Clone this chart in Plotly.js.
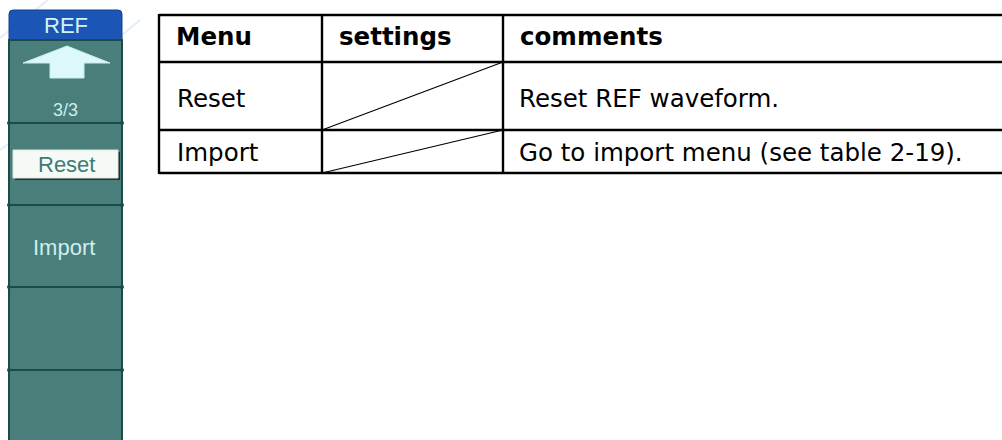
<!DOCTYPE html>
<html>
<head>
<meta charset="utf-8">
<script src="https://cdn.plot.ly/plotly-3.0.1.min.js"></script>
<style>html,body{margin:0;padding:0;background:#fff;}#chart{width:1002px;height:440px;}</style>
</head>
<body>
<div id="chart"></div>
<script>
// ---- content ----
const headers = ['Menu', 'settings', 'comments'];
const menuItems = ['Reset', 'Import'];
const comments = ['Reset REF waveform.', 'Go to import menu (see table 2-19).'];
const panelTitle = 'REF';
const pageLabel = '3/3';
const softkeys = ['Reset', 'Import', '', ''];
const softkeySelected = [true, false, false, false];

// ---- layout geometry (pixels) ----
const colEdges = [159, 322, 503, 1006];
const rowEdges = [15, 62, 130, 173];
const rowTextY = [36, 98.5, 152.5];
const panelX = [9, 122];
const panelTop = 10, headerBottom = 40;
const sectionEdges = [40, 123, 205, 287, 370, 460];

const shapes = [];
const annotations = [];
const tableFont = 'DejaVu Sans';
const tableSize = 24.5;
const scopeFont = 'Liberation Sans';

// faint watermark strokes
[[0, 38, 48, 0], [20, 120, 140, 20], [0, 150, 30, 128]].forEach(s => {
  shapes.push({type: 'line', x0: s[0], y0: s[1], x1: s[2], y1: s[3],
    line: {color: 'rgba(190,215,235,0.45)', width: 2}, layer: 'below'});
});

// ---- left soft-key panel ----
const teal = '#4A7E7B', dark = '#1D4A48';
shapes.push({type: 'rect', x0: panelX[0], x1: panelX[1], y0: headerBottom, y1: 460,
  fillcolor: teal, line: {color: dark, width: 2}});
shapes.push({type: 'path', path: `M ${panelX[0]} ${headerBottom} L ${panelX[0]} ${panelTop + 4} Q ${panelX[0]} ${panelTop} ${panelX[0] + 4} ${panelTop} L ${panelX[1] - 4} ${panelTop} Q ${panelX[1]} ${panelTop} ${panelX[1]} ${panelTop + 4} L ${panelX[1]} ${headerBottom} Z`,
  fillcolor: '#1B55B5', line: {color: '#17408A', width: 1}});
annotations.push({x: (panelX[0] + panelX[1]) / 2, y: 25.5, text: panelTitle, showarrow: false,
  font: {family: scopeFont, size: 22, color: '#D6F2F4'}});
shapes.push({type: 'line', x0: panelX[0], x1: panelX[1], y0: headerBottom, y1: headerBottom,
  line: {color: dark, width: 2}});
for (let i = 1; i < sectionEdges.length - 1; i++) {
  const y = sectionEdges[i];
  shapes.push({type: 'line', x0: panelX[0], x1: panelX[1], y0: y, y1: y, line: {color: dark, width: 2}});
  [panelX[0], panelX[1]].forEach(x => shapes.push({type: 'circle', x0: x - 2, x1: x + 2, y0: y - 2, y1: y + 2,
    fillcolor: dark, line: {width: 0}}));
}
// up arrow
shapes.push({type: 'path', path: 'M 23 63 L 67 46 L 110 63 L 84 63 L 84 78 L 50 78 L 50 63 Z',
  fillcolor: '#DDF8F8', line: {color: '#C5EEEE', width: 1}});
annotations.push({x: 65, y: 110, text: pageLabel, showarrow: false,
  font: {family: scopeFont, size: 18, color: '#C8EEEC'}});

softkeys.forEach((k, i) => {
  const yc = (sectionEdges[i + 1] + sectionEdges[i + 2]) / 2;
  if (softkeySelected[i]) {
    shapes.push({type: 'rect', x0: 15, x1: 120, y0: yc - 12, y1: yc + 16, fillcolor: '#2A2A2A', line: {width: 0}});
    shapes.push({type: 'rect', x0: 13, x1: 118, y0: yc - 14, y1: yc + 14, fillcolor: '#F6FAF6',
      line: {color: '#DDE6E2', width: 1}});
    annotations.push({x: 66, y: yc, text: k, showarrow: false,
      font: {family: scopeFont, size: 22, color: '#3F7A77'}});
  } else if (k) {
    annotations.push({x: 64, y: yc + 1.5, text: k, showarrow: false,
      font: {family: scopeFont, size: 22, color: '#CDEFEF'}});
  }
});

// ---- table ----
const lw = 2.4;
rowEdges.forEach(y => shapes.push({type: 'line', x0: colEdges[0], x1: colEdges[3], y0: y, y1: y,
  line: {color: '#000', width: lw}}));
colEdges.forEach(x => shapes.push({type: 'line', x0: x, x1: x, y0: rowEdges[0] - 1, y1: rowEdges[3] + 1,
  line: {color: '#000', width: lw}}));
headers.forEach((h, i) => annotations.push({x: colEdges[i] + 15, y: rowTextY[0], xanchor: 'left',
  text: '<b>' + h + '</b>', showarrow: false, font: {family: tableFont, size: tableSize, color: '#000'}}));
menuItems.forEach((m, r) => {
  const yc = rowTextY[r + 1];
  annotations.push({x: colEdges[0] + 16, y: yc, xanchor: 'left', text: m, showarrow: false,
    font: {family: tableFont, size: tableSize, color: '#000'}});
  annotations.push({x: colEdges[2] + 14, y: yc, xanchor: 'left', text: comments[r], showarrow: false,
    font: {family: tableFont, size: tableSize, color: '#000'}});
  shapes.push({type: 'line', x0: colEdges[1], y0: rowEdges[r + 2], x1: colEdges[2], y1: rowEdges[r + 1],
    line: {color: '#000', width: 1.2}});
});

shapes.forEach(s => { s.xref = 'x'; s.yref = 'y'; });
annotations.forEach(a => { a.xref = 'x'; a.yref = 'y'; });

Plotly.newPlot('chart', [], {
  width: 1002, height: 440,
  margin: {l: 0, r: 0, t: 0, b: 0},
  paper_bgcolor: '#fff', plot_bgcolor: '#fff',
  xaxis: {range: [0, 1002], visible: false, fixedrange: true},
  yaxis: {range: [440, 0], visible: false, fixedrange: true},
  shapes: shapes, annotations: annotations, showlegend: false
}, {displayModeBar: false, staticPlot: true});
</script>
</body>
</html>
